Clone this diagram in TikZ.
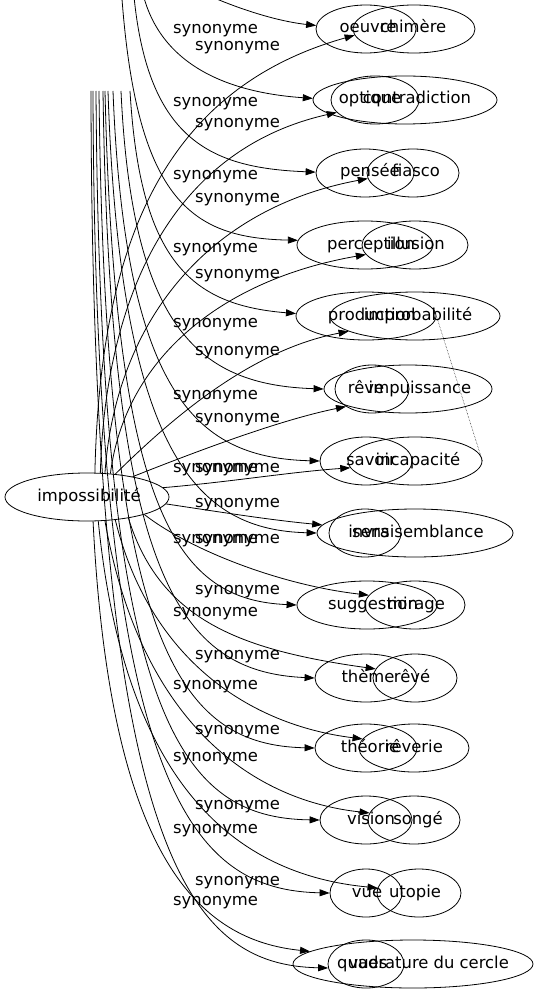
\documentclass[tikz,border=0pt]{standalone}
\usepackage{fontspec}
\setmainfont{DejaVu Sans}
\usetikzlibrary{arrows.meta,shapes.geometric}
\begin{document}
\begin{tikzpicture}[x=1pt,y=-1pt,
  font=\fontsize{16.4}{19}\selectfont,
  ell/.style={draw, ellipse, inner sep=0pt, minimum height=48pt, line width=0.8pt},
  txt/.style={inner sep=0pt, text height=11.5pt, text depth=3.5pt},
  lab/.style={anchor=west, inner sep=0pt, text height=11.5pt, text depth=3.5pt},
  edge/.style={line width=0.8pt, -{Triangle[length=10pt,width=7pt]}},
  link/.style={line width=0.5pt, densely dotted}]
\useasboundingbox (0,0) rectangle (539,995);
\clip (0,0) rectangle (539,995);
% source node
\node[ell, minimum width=164pt] (I) at (87,497) {};
\node[txt] (It) at (89,497) {impossibilité};
% first set
\node[ell, minimum width=100pt] (A1) at (366,29) {};
\node[ell, minimum width=88pt]  (A2) at (375,100) {};
\node[ell, minimum width=98pt]  (A3) at (365,173) {};
\node[ell, minimum width=136pt] (A4) at (365,245) {};
\node[ell, minimum width=140pt] (A5) at (366,316) {};
\node[ell, minimum width=74pt]  (A6) at (372,389) {};
\node[ell, minimum width=92pt]  (A7) at (366,461) {};
\node[ell, minimum width=72pt]  (A8) at (365,533) {};
\node[ell, minimum width=140pt] (A9) at (367,605) {};
\node[ell, minimum width=102pt] (A10) at (366,678) {};
\node[ell, minimum width=102pt] (A11) at (366,748) {};
\node[ell, minimum width=92pt]  (A12) at (366,820) {};
\node[ell, minimum width=72pt]  (A13) at (366,893) {};
\node[ell, minimum width=76pt]  (A14) at (366,964) {};
\node[txt] (A1t) at (368,29) {oeuvre};
\node[txt] (A2t) at (370,100) {optique};
\node[txt] (A3t) at (370,173) {pensée};
\node[txt] (A4t) at (371,245) {perception};
\node[txt] (A5t) at (372,316) {production};
\node[txt] (A6t) at (366,389) {rêve};
\node[txt] (A7t) at (371,461) {savoir};
\node[txt] (A8t) at (371,533) {sens};
\node[txt] (A9t) at (373,605) {suggestion};
\node[txt] (A10t) at (368,678) {thème};
\node[txt] (A11t) at (370,748) {théorie};
\node[txt] (A12t) at (371,820) {vision};
\node[txt] (A13t) at (367,893) {vue};
\node[txt] (A14t) at (368,964) {vues};
% second set
\node[ell, minimum width=122pt] (B1) at (414,29) {};
\node[ell, minimum width=184pt] (B2) at (405,100) {};
\node[ell, minimum width=92pt]  (B3) at (413,173) {};
\node[ell, minimum width=106pt] (B4) at (415,245) {};
\node[ell, minimum width=170pt] (B5) at (415,316) {};
\node[ell, minimum width=168pt] (B6) at (408,389) {};
\node[ell, minimum width=134pt] (B7) at (415,461) {};
\node[ell, minimum width=196pt] (B8) at (415,533) {};
\node[ell, minimum width=100pt] (B9) at (415,605) {};
\node[ell, minimum width=84pt]  (B10) at (415,678) {};
\node[ell, minimum width=110pt] (B11) at (414,748) {};
\node[ell, minimum width=92pt]  (B12) at (414,820) {};
\node[ell, minimum width=84pt]  (B13) at (419,893) {};
\node[ell, minimum width=240pt] (B14) at (413,964) {};
\node[txt] (B1t) at (413,29) {chimère};
\node[txt] (B2t) at (417,100) {contradiction};
\node[txt] (B3t) at (416,173) {fiasco};
\node[txt] (B4t) at (416,245) {illusion};
\node[txt] (B5t) at (418,316) {improbabilité};
\node[txt] (B6t) at (420,389) {impuissance};
\node[txt] (B7t) at (418,461) {incapacité};
\node[txt] (B8t) at (416,533) {invraisemblance};
\node[txt] (B9t) at (416,605) {mirage};
\node[txt] (B10t) at (412,678) {rêvé};
\node[txt] (B11t) at (414,748) {rêverie};
\node[txt] (B12t) at (418,820) {songé};
\node[txt] (B13t) at (415,893) {utopie};
\node[txt] (B14t) at (423,964) {quadrature du cercle};
% free ends of the edges coming from above
\coordinate (t1) at (172,-22);
\coordinate (t2) at (141,-15);
\coordinate (t3) at (133,-15);
\coordinate (t4) at (121,-15);
\coordinate (b5) at (130,91);
\coordinate (b6) at (121,91);
\coordinate (b7) at (113,91);
\coordinate (b8) at (108,91);
\coordinate (b9) at (105,91);
\coordinate (b10) at (103,91);
\coordinate (b11) at (99,91);
\coordinate (b12) at (96,91);
\coordinate (b13) at (93,91);
\coordinate (b14) at (91,91);
% edges from above
\draw[edge] (t1) .. controls (225,6) and (275,21) .. (A1.176);
\draw[edge] (t2) .. controls (155,60) and (220,92) .. (B2.179);
\draw[edge] (t3) .. controls (145,140) and (210,168) .. (A3.179);
\draw[edge] (t4) .. controls (135,200) and (190,238) .. (A4.176);
\draw[edge] (b5) .. controls (140,260) and (190,305) .. (A5.178);
\draw[edge] (b6) .. controls (132,330) and (200,385) .. (B6.180);
\draw[edge] (b7) .. controls (125,400) and (200,458) .. (A7.180);
\draw[edge] (b8) .. controls (120,460) and (200,530) .. (B8.180);
\draw[edge] (b9) .. controls (115,520) and (180,600) .. (A9.180);
\draw[edge] (b10) .. controls (110,580) and (180,672) .. (A10.180);
\draw[edge] (b11) .. controls (105,650) and (180,745) .. (A11.180);
\draw[edge] (b12) .. controls (100,720) and (180,818) .. (A12.180);
\draw[edge] (b13) .. controls (95,790) and (190,890) .. (A13.180);
\draw[edge] (b14) .. controls (92,860) and (190,965) .. (A14.186);
% edges from impossibilite
\draw[edge] (I.72) .. controls (100,250) and (160,90) .. (B1.186);
\draw[edge] (I.61) .. controls (105,300) and (170,150) .. (A2.198);
\draw[edge] (I.53) .. controls (115,330) and (200,210) .. (B3.187);
\draw[edge] (I.45) .. controls (125,360) and (220,280) .. (B4.191);
\draw[edge] (I.39) .. controls (170,420) and (250,350) .. (B5.193);
\draw[edge] (I.24) .. controls (200,450) and (280,420) .. (A6.214);
\draw[edge] (I.7) .. controls (230,482) and (290,472) .. (B7.186);
\draw[edge] (I.-5) .. controls (220,512) and (270,520) .. (B8.175);
\draw[edge] (I.-17) .. controls (190,550) and (280,585) .. (B9.168);
\draw[edge] (I.-27) .. controls (160,620) and (240,650) .. (B10.167);
\draw[edge] (I.-39) .. controls (150,660) and (250,725) .. (B11.170);
\draw[edge] (I.-53) .. controls (140,720) and (250,800) .. (B12.171);
\draw[edge] (I.-65) .. controls (125,790) and (240,875) .. (B13.173);
\draw[edge] (I.-76) .. controls (110,860) and (200,940) .. (B14.173);
% dotted link
\draw[link] (A5.east) -- (B7.east);
% labels
\foreach \n/\yy in {1/30,2/103,3/175,4/248,5/323,6/395,7/468,8/539,9/612,10/685,11/757,12/829,13/901}
  \node[lab] (ll\n) at (173,\yy) {synonyme};
\foreach \n/\yy in {1/47,2/124,3/199,4/274,5/351,6/418,7/468,8/503,9/539,10/590,11/655,12/730,13/805,14/881}
  \node[lab] (lr\n) at (195,\yy) {synonyme};
\end{tikzpicture}
\end{document}
